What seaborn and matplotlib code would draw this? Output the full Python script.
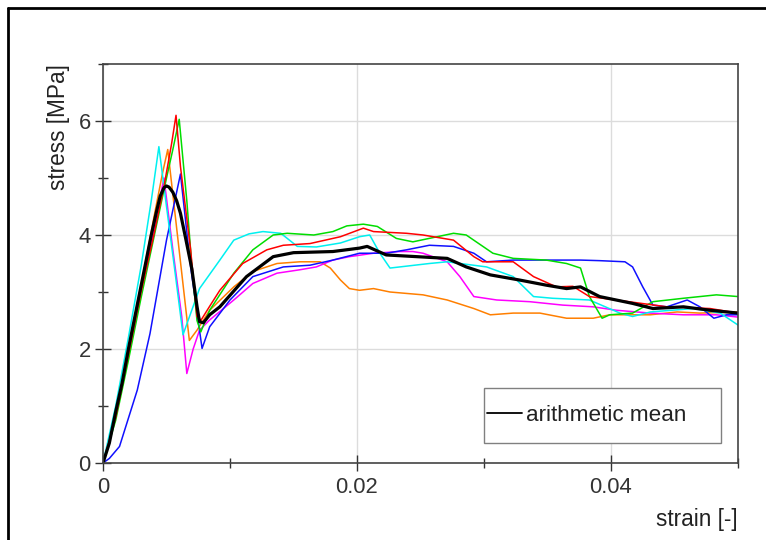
import numpy as np
import pandas as pd
import matplotlib
matplotlib.use("Agg")
import matplotlib.pyplot as plt
from matplotlib.lines import Line2D
from matplotlib.patches import Rectangle
from matplotlib.ticker import MultipleLocator
import seaborn as sns

# ---------------- data ----------------
cyan_x = [0, 0.001, 0.002, 0.003, 0.0038, 0.0044, 0.005, 0.0057, 0.0063, 0.0067, 0.0076, 0.0092,
          0.0103, 0.0115, 0.0126, 0.014, 0.0153, 0.0168, 0.0187, 0.0202, 0.021, 0.0218, 0.0226,
          0.0257, 0.0271, 0.0302, 0.0323, 0.0339, 0.0354, 0.0383, 0.0407, 0.0417, 0.0431, 0.0465,
          0.0486, 0.05]
cyan_y = [0, 1.0, 2.2, 3.45, 4.6, 5.55, 4.5, 3.3, 2.25, 2.5, 3.06, 3.56,
          3.91, 4.02, 4.06, 4.03, 3.8, 3.79, 3.86, 3.97, 4.0, 3.68, 3.42,
          3.5, 3.53, 3.44, 3.27, 2.92, 2.89, 2.86, 2.63, 2.57, 2.65, 2.71,
          2.63, 2.42]

orange_x = [0, 0.001, 0.002, 0.003, 0.004, 0.0047, 0.0051, 0.0058, 0.0064, 0.0068, 0.0074, 0.0084,
            0.0103, 0.0118, 0.0137, 0.0155, 0.0171, 0.0179, 0.0187, 0.0194, 0.0202, 0.0213, 0.0226,
            0.0252, 0.0271, 0.0292, 0.0305, 0.0323, 0.0344, 0.0365, 0.0386, 0.0399, 0.0431, 0.0452,
            0.047, 0.05]
orange_y = [0, 0.8, 1.9, 3.1, 4.3, 5.1, 5.5, 4.12, 2.94, 2.15, 2.33, 2.68,
            3.09, 3.36, 3.5, 3.53, 3.53, 3.42, 3.21, 3.06, 3.03, 3.06, 3.0,
            2.95, 2.86, 2.71, 2.6, 2.63, 2.63, 2.54, 2.54, 2.6, 2.6, 2.65,
            2.63, 2.65]

red_x = [0, 0.001, 0.002, 0.003, 0.004, 0.0048, 0.0054, 0.00575, 0.0061, 0.0069, 0.0074, 0.0077,
         0.0084, 0.0092, 0.011, 0.0129, 0.0142, 0.0163, 0.0187, 0.0205, 0.0213, 0.0239, 0.0252,
         0.0276, 0.0292, 0.0299, 0.0323, 0.0339, 0.0357, 0.037, 0.0383, 0.0404, 0.0444, 0.0478,
         0.05]
red_y = [0, 0.8, 1.9, 3.0, 4.0, 4.85, 5.6, 6.1, 5.2, 3.74, 2.57, 2.5,
         2.75, 3.03, 3.5, 3.74, 3.82, 3.85, 3.97, 4.12, 4.06, 4.03, 4.0,
         3.91, 3.62, 3.53, 3.53, 3.27, 3.09, 3.1, 2.92, 2.86, 2.74, 2.71,
         2.63]

green_x = [0, 0.001, 0.002, 0.003, 0.004, 0.005, 0.0055, 0.006, 0.0066, 0.007, 0.0074, 0.0077,
           0.0084, 0.0103, 0.0118, 0.0134, 0.0145, 0.0166, 0.0181, 0.0192, 0.0205, 0.0216, 0.0231,
           0.0244, 0.0276, 0.0286, 0.0307, 0.0323, 0.0349, 0.0365, 0.0376, 0.0383, 0.0393, 0.0399,
           0.0417, 0.0433, 0.0457, 0.0483, 0.05]
green_y = [0, 0.75, 1.8, 2.9, 3.95, 5.0, 5.5, 6.03, 4.6, 3.44, 2.5, 2.3,
           2.68, 3.33, 3.74, 4.0, 4.03, 4.0, 4.06, 4.16, 4.19, 4.15, 3.94,
           3.88, 4.03, 4.0, 3.68, 3.59, 3.56, 3.5, 3.42, 2.92, 2.54, 2.6,
           2.63, 2.83, 2.89, 2.95, 2.92]

blue_x = [0, 0.0005, 0.0013, 0.0027, 0.0037, 0.005, 0.0061, 0.0069, 0.0078, 0.0084, 0.01, 0.0118,
          0.0142, 0.0163, 0.0181, 0.0202, 0.0223, 0.0239, 0.0257, 0.0276, 0.0292, 0.0302, 0.0323,
          0.0376, 0.0391, 0.0411, 0.0417, 0.0425, 0.0433, 0.0444, 0.046, 0.047, 0.0481, 0.0491,
          0.05]
blue_y = [0, 0.08, 0.29, 1.28, 2.27, 3.91, 5.07, 3.44, 2.01, 2.39, 2.86, 3.27,
          3.44, 3.47, 3.56, 3.68, 3.68, 3.74, 3.82, 3.8, 3.68, 3.53, 3.56,
          3.56, 3.55, 3.53, 3.44, 3.09, 2.77, 2.74, 2.86, 2.74, 2.54, 2.6,
          2.6]

magenta_x = [0, 0.001, 0.002, 0.003, 0.004, 0.0048, 0.0055, 0.0062, 0.0066, 0.0071, 0.0076, 0.0084,
             0.0103, 0.0118, 0.0137, 0.0155, 0.0168, 0.0181, 0.0194, 0.0213, 0.0234, 0.0244, 0.0252,
             0.0271, 0.0281, 0.0292, 0.031, 0.0336, 0.0362, 0.0386, 0.0404, 0.0431, 0.0457, 0.0483,
             0.05]
magenta_y = [0, 0.85, 1.95, 3.05, 4.1, 5.0, 3.74, 2.57, 1.57, 2.0, 2.33, 2.51,
             2.86, 3.15, 3.33, 3.39, 3.44, 3.56, 3.62, 3.68, 3.71, 3.71, 3.68,
             3.53, 3.27, 2.92, 2.86, 2.83, 2.77, 2.74, 2.68, 2.63, 2.6, 2.6,
             2.56]

mean_x = [0, 0.0005, 0.001, 0.0015, 0.002, 0.0029, 0.0038, 0.0042, 0.0045, 0.0048, 0.005, 0.0052,
          0.0055, 0.0058, 0.0061, 0.0065, 0.007, 0.0074, 0.0076, 0.0079, 0.0084, 0.0092, 0.0113,
          0.0134, 0.015, 0.0181, 0.0202, 0.0208, 0.0223, 0.0271, 0.0286, 0.0305, 0.0328, 0.0349,
          0.0365, 0.0376, 0.0391, 0.0417, 0.0433, 0.0457, 0.0478, 0.05]
mean_y = [0, 0.35, 0.9, 1.4, 2.0, 3.0, 4.0, 4.4, 4.68, 4.83, 4.86, 4.84,
          4.75, 4.6, 4.38, 3.95, 3.4, 2.75, 2.48, 2.46, 2.6, 2.74, 3.27,
          3.62, 3.69, 3.71, 3.77, 3.8, 3.65, 3.59, 3.44, 3.3, 3.21, 3.12,
          3.06, 3.09, 2.92, 2.8, 2.71, 2.74, 2.68, 2.63]

specimen_names = ["orange", "magenta", "blue", "cyan", "green", "red"]
specimen_colors = ["#ff7f00", "#ff00ff", "#1010ff", "#00f0f0", "#00dd00", "#ff0000"]
series = {"orange": (orange_x, orange_y), "magenta": (magenta_x, magenta_y),
          "blue": (blue_x, blue_y), "cyan": (cyan_x, cyan_y),
          "green": (green_x, green_y), "red": (red_x, red_y)}

x_ticks = [0, 0.02, 0.04]
x_tick_labels = ["0", "0.02", "0.04"]
y_ticks = [0, 2, 4, 6]
y_tick_labels = ["0", "2", "4", "6"]

# ---------------- build the long table ----------------
rows = []
for name in specimen_names:
    xs, ys = series[name]
    for i, (xv, yv) in enumerate(zip(xs, ys)):
        rows.append({"specimen": name, "order": i, "strain": xv, "stress": yv})
df = pd.DataFrame(rows)
mean_df = pd.DataFrame({"strain": mean_x, "stress": mean_y})

# ---------------- style ----------------
sns.set_style("white")
plt.rcParams["font.family"] = ["Liberation Sans", "DejaVu Sans"]
plt.rcParams["text.color"] = "#222222"
plt.rcParams["axes.labelcolor"] = "#222222"
plt.rcParams["xtick.color"] = "#333333"
plt.rcParams["ytick.color"] = "#333333"

W, H = 766, 540
fig = plt.figure(figsize=(W / 100, H / 100), dpi=100)
ax_l, ax_r, ax_b, ax_t = 103, 738, 463, 64
AW, AH = ax_r - ax_l, ax_b - ax_t
ax = fig.add_axes([ax_l / W, 1 - ax_b / H, AW / W, AH / H])

sns.lineplot(data=df, x="strain", y="stress", hue="specimen", hue_order=specimen_names,
             palette=specimen_colors, estimator=None, sort=False, units="specimen",
             linewidth=1.1, legend=False, ax=ax)
sns.lineplot(data=mean_df, x="strain", y="stress", color="black", linewidth=2.3,
             estimator=None, sort=False, label="arithmetic mean", ax=ax)

ax.set_xlim(0, 0.05)
ax.set_ylim(0, 7)
ax.set_xticks(x_ticks)
ax.set_xticklabels(x_tick_labels)
ax.set_yticks(y_ticks)
ax.set_yticklabels(y_tick_labels)
ax.xaxis.set_minor_locator(MultipleLocator(0.01))
ax.yaxis.set_minor_locator(MultipleLocator(1))

ax.tick_params(which="both", bottom=True, left=True, top=False, right=False)
ax.tick_params(which="major", direction="inout", length=11.5, width=1.0, labelsize=15.8, pad=3)
ax.tick_params(which="minor", direction="inout", length=6.5, width=1.0)
ax.tick_params(axis="x", which="major", pad=4)

ax.grid(True, which="major", color="#dcdcdc", linewidth=1.0)
ax.set_axisbelow(True)
for s in ax.spines.values():
    s.set_color("#444444")
    s.set_linewidth(1.2)

ax.set_ylabel("stress [MPa]", fontsize=16.3, loc="top")
ax.yaxis.set_label_coords((70 - ax_l) / AW, 1.0)
ax.set_xlabel("strain [-]", fontsize=16.3, loc="right")
ax.xaxis.set_label_coords(1.0, -(508 - ax_b) / AH)

# legend box (drawn as a patch) + legend content
box = Rectangle(((484 - ax_l) / AW, (ax_b - 443) / AH), (721 - 484) / AW, (443 - 388) / AH,
                transform=ax.transAxes, facecolor="white", edgecolor="#808080",
                linewidth=1.0, zorder=4.5)
ax.add_patch(box)
leg = ax.legend(loc="center left", bbox_to_anchor=((487 - ax_l) / AW, (ax_b - 415.5) / AH),
                borderaxespad=0, borderpad=0, fontsize=16.2, frameon=False,
                handlelength=1.55, handletextpad=0.2)
leg.set_zorder(5)
for ln in leg.get_lines():
    ln.set_linewidth(1.3)

# outer frame (left and top)
fig.add_artist(Line2D([8 / W, 8 / W], [0, 1 - 8 / H], transform=fig.transFigure,
                      color="black", linewidth=2.0))
fig.add_artist(Line2D([8 / W, 1], [1 - 8 / H, 1 - 8 / H], transform=fig.transFigure,
                      color="black", linewidth=2.0))

fig.savefig("out.png", dpi=100)
